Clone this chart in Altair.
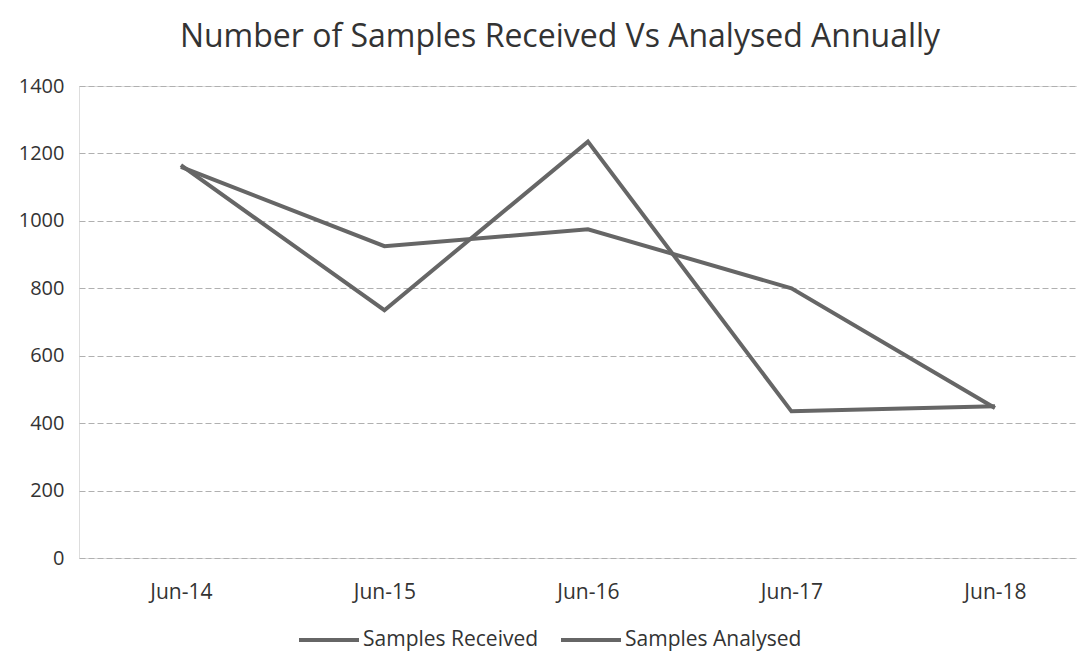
import altair as alt
import pandas as pd

categories = ["Jun-14", "Jun-15", "Jun-16", "Jun-17", "Jun-18"]
received = [1165, 735, 1235, 435, 450]
analysed = [1160, 925, 975, 800, 445]
series_names = ["Samples Received", "Samples Analysed"]

rows = []
for name, vals in zip(series_names, [received, analysed]):
    for c, v in zip(categories, vals):
        rows.append({"Period": c, "Value": v, "Series": name})
df = pd.DataFrame(rows)

gray = "#666666"
txt = "#333333"

chart = alt.Chart(df).mark_line(strokeWidth=4, strokeJoin="miter").encode(
    x=alt.X("Period:N", sort=categories, title=None,
            scale=alt.Scale(type="point", padding=0.452, align=0.554),
            axis=alt.Axis(labelAngle=0, ticks=False, domain=False, grid=False,
                          labelFontSize=21, labelColor=txt, labelPadding=23,
                          labelFont="Open Sans")),
    y=alt.Y("Value:Q", title=None,
            scale=alt.Scale(domain=[0, 1400], nice=False),
            axis=alt.Axis(values=[0, 200, 400, 600, 800, 1000, 1200, 1400],
                          format="d", ticks=False, domain=False, grid=True,
                          gridColor="#b0b0b0", gridDash=[6, 3], gridWidth=1,
                          labelFontSize=20, labelColor=txt, labelPadding=15,
                          labelFont="Open Sans")),
    color=alt.Color("Series:N", sort=series_names,
                    scale=alt.Scale(domain=series_names, range=[gray, gray]),
                    legend=alt.Legend(orient="none", legendX=218, legendY=522,
                                      direction="horizontal", title=None,
                                      symbolType="stroke", symbolStrokeWidth=4,
                                      symbolSize=3600, labelFontSize=21,
                                      labelFont="Open Sans", labelColor=txt,
                                      labelLimit=400,
                                      columnPadding=14, labelOffset=2)),
).properties(
    width=998, height=472,
    title=alt.TitleParams("Number of Samples Received Vs Analysed Annually",
                          fontSize=32, font="Open Sans", fontWeight="normal",
                          color=txt, anchor="middle", offset=22, dx=-18),
    autosize=alt.AutoSizeParams(type="none"),
    padding={"left": 71, "top": 78, "right": 0, "bottom": 93},
).configure_view(stroke=None).configure(background="white")

chart.save("out.html", embed_options={"renderer": "svg", "actions": False})
